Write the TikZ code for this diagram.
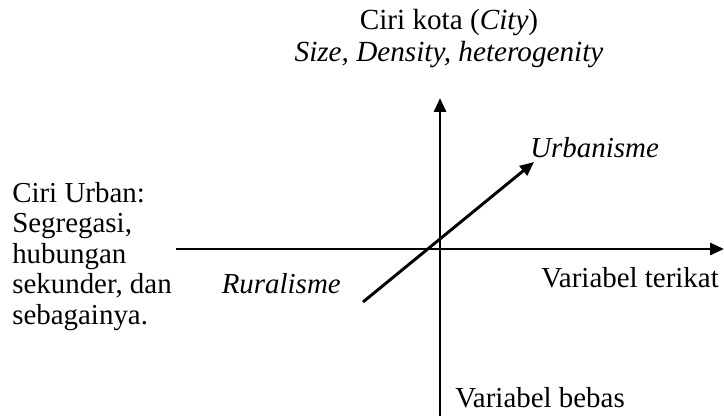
\documentclass[tikz,border=0pt]{standalone}
\usepackage{fontspec}
\setmainfont{Liberation Serif}
\usetikzlibrary{arrows.meta}
\begin{document}
\begin{tikzpicture}[x=0.75pt,y=-0.75pt,
  axis/.style={line width=2.2pt,-{Triangle[length=10.5pt,width=9pt]}},
  lbl/.style={inner sep=0pt,font=\fontsize{21.7}{22.9}\selectfont}]
\useasboundingbox (0,0) rectangle (724,416);
% labels
\node[lbl,align=center,font=\fontsize{21.9}{24}\selectfont] (top) at (449,39) {Ciri kota (\textit{City})\\\textit{Size, Density, heterogenity}};
\node[lbl,align=left,anchor=north west] (left) at (12,182) {Ciri Urban:\\Segregasi,\\hubungan\\sekunder, dan\\sebagainya.};
\node[lbl,anchor=west] (urb) at (530,148) {\textit{Urbanisme}};
\node[lbl,anchor=east] (rur) at (341,284) {\textit{Ruralisme}};
\node[lbl,anchor=west] (terikat) at (541,278) {Variabel terikat};
\node[lbl,anchor=west] (bebas) at (455,398) {Variabel bebas};
% axes
\coordinate (vb) at (440,420);
\coordinate (vt) at (440,98);
\coordinate (hl) at (176,249);
\coordinate (hr) at (724,249);
\coordinate (ds) at (363,302);
\coordinate (de) at (534,162);
\draw[axis] (vb) -- (vt);
\draw[axis] (hl) -- (hr);
\draw[axis] (ds) -- (de);
\end{tikzpicture}
\end{document}
